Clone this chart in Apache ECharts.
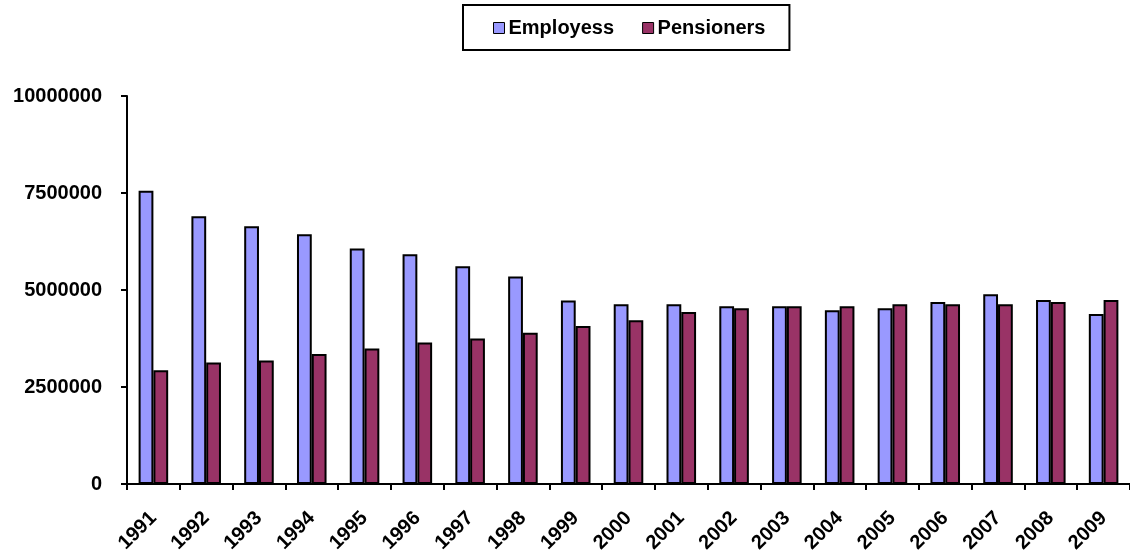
<!DOCTYPE html>
<html>
<head>
<meta charset="utf-8">
<script src="https://cdn.jsdelivr.net/npm/echarts@6/dist/echarts.min.js"></script>
<style>html,body{margin:0;padding:0;background:#fff;overflow:hidden}#c{width:1130px;height:556px}</style>
</head>
<body>
<div id="c"></div>
<script>
var years = ['1991','1992','1993','1994','1995','1996','1997','1998','1999','2000','2001','2002','2003','2004','2005','2006','2007','2008','2009'];
var employees = [7560000,6900000,6640000,6440000,6070000,5920000,5610000,5350000,4730000,4630000,4630000,4580000,4580000,4480000,4530000,4690000,4890000,4740000,4380000];
var pensioners = [2930000,3130000,3180000,3350000,3490000,3650000,3750000,3900000,4070000,4220000,4430000,4530000,4580000,4580000,4630000,4630000,4630000,4690000,4740000];
var yTicks = [0,2500000,5000000,7500000,10000000];

var font = 'Liberation Sans, Arial, sans-serif';
var chart = echarts.init(document.getElementById('c'));
chart.setOption({
  animation: false,
  backgroundColor: '#fff',
  legend: {
    left: 463, top: 5,
    padding: [13, 24, 12, 30],
    borderColor: '#000', borderWidth: 2,
    itemWidth: 11, itemHeight: 11, itemGap: 28,
    icon: 'rect',
    textStyle: {fontFamily: font, fontWeight: 'bold', fontSize: 20, color: '#000', padding: [0,0,0,-1]},
    itemStyle: {borderColor: '#000', borderWidth: 1}
  },
  grid: {left: 127, right: -6, top: 96, bottom: 72, containLabel: false},
  xAxis: {
    type: 'category', data: years,
    axisLine: {lineStyle: {color: '#000', width: 2}},
    axisTick: {show: true, length: 6, lineStyle: {color: '#000', width: 2}},
    axisLabel: {rotate: 45, margin: 31, fontFamily: font, fontWeight: 'bold', fontSize: 20, color: '#000', interval: 0}
  },
  yAxis: {
    type: 'value', min: yTicks[0], max: yTicks[yTicks.length-1], interval: yTicks[1]-yTicks[0],
    axisLine: {show: true, lineStyle: {color: '#000', width: 2}},
    axisTick: {show: true, length: 6, lineStyle: {color: '#000', width: 2}},
    splitLine: {show: false},
    axisLabel: {margin: 25, fontFamily: font, fontWeight: 'bold', fontSize: 20, color: '#000', formatter: function(v){return String(v);}}
  },
  series: [
    {name: 'Employess', type: 'bar', data: employees, barGap: '0%', barCategoryGap: '44%',
     itemStyle: {color: '#9999FF', borderColor: '#000', borderWidth: 2}},
    {name: 'Pensioners', type: 'bar', data: pensioners,
     itemStyle: {color: '#993366', borderColor: '#000', borderWidth: 2}}
  ]
});
</script>
</body>
</html>
